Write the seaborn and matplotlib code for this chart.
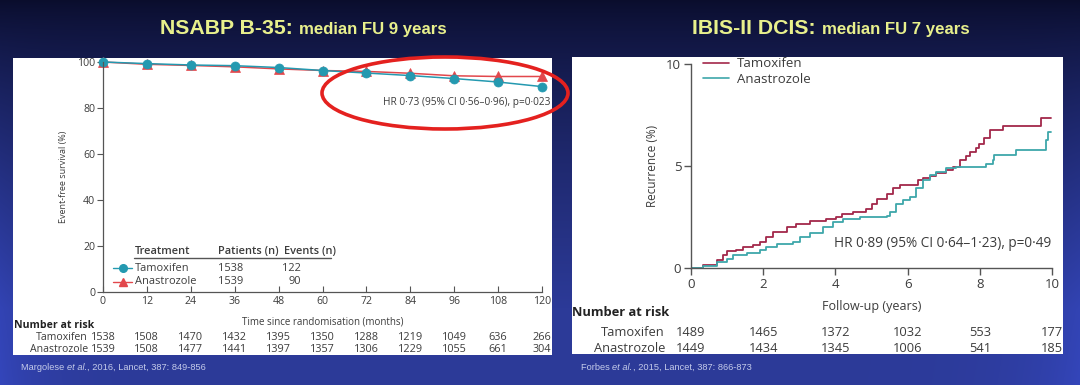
import numpy as np
import pandas as pd
import matplotlib
matplotlib.use("Agg")
import matplotlib.pyplot as plt
import seaborn as sns
import matplotlib.transforms as mtrans
from matplotlib.patches import Ellipse, Rectangle
from matplotlib.lines import Line2D

# ---------------- data ----------------
b35_months = [0, 12, 24, 36, 48, 60, 72, 84, 96, 108, 120]
b35_tamoxifen = [100, 99.3, 98.7, 98.4, 97.6, 96.3, 95.2, 94.1, 92.8, 91.3, 89.3]
b35_anastrozole = [100, 99.0, 98.5, 97.9, 97.0, 96.3, 95.9, 95.1, 94.0, 93.7, 93.7]
b35_risk_tamoxifen = [1538, 1508, 1470, 1432, 1395, 1350, 1288, 1219, 1049, 636, 266]
b35_risk_anastrozole = [1539, 1508, 1477, 1441, 1397, 1357, 1306, 1229, 1055, 661, 304]
b35_table_patients = [1538, 1539]
b35_table_events = [122, 90]

ibis_tam_years = [0, 0.34, 0.71, 0.9, 0.99, 1.26, 1.45, 1.73, 1.91, 2.09, 2.28, 2.65, 2.92,
                  3.29, 3.75, 4.03, 4.17, 4.49, 4.86, 5.0, 5.14, 5.42, 5.6, 5.79, 6.15,
                  6.29, 6.43, 6.61, 6.8, 7.07, 7.26, 7.44, 7.63, 7.72, 7.9, 7.99, 8.13,
                  8.27, 8.64, 9.7, 9.98]
ibis_tam_rec = [0, 0.16, 0.38, 0.62, 0.82, 0.9, 1.03, 1.15, 1.28, 1.52, 1.77, 2.0, 2.18,
                2.31, 2.42, 2.5, 2.67, 2.75, 2.91, 3.16, 3.37, 3.65, 3.9, 4.06, 4.06,
                4.3, 4.42, 4.5, 4.66, 4.8, 4.96, 5.29, 5.48, 5.7, 5.86, 6.1, 6.35,
                6.76, 6.96, 7.36, 7.36]
ibis_ana_years = [0, 0.34, 0.71, 0.99, 1.17, 1.54, 1.91, 2.09, 2.37, 2.83, 3.02, 3.29,
                  3.66, 3.94, 4.22, 4.68, 5.42, 5.51, 5.69, 5.88, 6.06, 6.24, 6.43,
                  6.61, 6.8, 7.07, 7.35, 8.09, 8.18, 8.36, 8.4, 8.82, 9.01, 9.79,
                  9.84, 9.88, 9.98]
ibis_ana_rec = [0, 0.08, 0.29, 0.46, 0.62, 0.74, 0.87, 1.03, 1.19, 1.28, 1.52, 1.72,
                2.01, 2.26, 2.42, 2.5, 2.54, 2.75, 3.16, 3.32, 3.49, 3.9, 4.3,
                4.55, 4.71, 4.88, 4.93, 4.93, 5.12, 5.29, 5.53, 5.53, 5.78, 5.78,
                6.27, 6.68, 6.68]
ibis_risk_years = [0, 2, 4, 6, 8, 10]
ibis_risk_tamoxifen = [1489, 1465, 1372, 1032, 553, 177]
ibis_risk_anastrozole = [1449, 1434, 1345, 1006, 541, 185]

arms = ["Tamoxifen", "Anastrozole"]

# ---------------- style ----------------
sns.set_theme(style="white")
plt.rcParams["font.family"] = ["Open Sans", "DejaVu Sans"]

W, H = 1080, 385
def fx(x): return x / W
def fy(y): return 1 - y / H

TXT = "#3c3c3c"
AX = "#555555"
TEAL_B = "#2499b0"
RED_B = "#e2474c"
TAM_I = "#a3284a"
ANA_I = "#3ea7aa"
YEL = "#e8f08c"

fig = plt.figure(figsize=(W / 100, H / 100), dpi=100)

# background gradient
bg = fig.add_axes([0, 0, 1, 1], zorder=0)
yy, xx = np.mgrid[0:H, 0:W]
t = yy / H
top = np.array([10, 13, 44.0])
bot = np.array([44, 58, 152.0])
c = top + (bot - top) * (np.clip(t * 1.25, 0, 1) ** 0.75)[..., None]
edge = (np.exp(-xx / 45.0) + np.exp(-(W - xx) / 60.0))[..., None] * np.array([8, 12, 35.0]) * t[..., None]
img = np.clip((c + edge) / 255.0, 0, 1)
bg.imshow(img, extent=[0, 1, 0, 1], aspect="auto", origin="upper")
bg.set_axis_off()

# white panels
panelL = Rectangle((fx(13), fy(355)), (552 - 13) / W, (355 - 58) / H,
                   transform=fig.transFigure, facecolor="white", edgecolor="none", zorder=1)
panelR = Rectangle((fx(572), fy(354)), (1063 - 572) / W, (354 - 57) / H,
                   transform=fig.transFigure, facecolor="white", edgecolor="none", zorder=1)
fig.add_artist(panelL)
fig.add_artist(panelR)

# ---------------- left chart (NSABP B-35) ----------------
axL = fig.add_axes([fx(103), fy(292), (542 - 103) / W, (292 - 62) / H], zorder=3)
axL.set_facecolor("none")
dfL = pd.DataFrame({"month": b35_months * 2,
                    "value": b35_tamoxifen + b35_anastrozole,
                    "arm": ["Tamoxifen"] * len(b35_months) + ["Anastrozole"] * len(b35_months)})
for arm, col, mk in [("Anastrozole", RED_B, "^"), ("Tamoxifen", TEAL_B, "o")]:
    sns.lineplot(data=dfL[dfL["arm"] == arm], x="month", y="value", ax=axL, color=col,
                 marker=mk, markersize=6.5, markeredgecolor=col, markeredgewidth=0.5,
                 linewidth=1.1, legend=False, clip_on=False)
axL.set_xlim(0, 120)
axL.set_ylim(0, 100)
axL.set_xticks(b35_months)
axL.set_yticks([0, 20, 40, 60, 80, 100])
for s in ["top", "right"]:
    axL.spines[s].set_visible(False)
for s in ["left", "bottom"]:
    axL.spines[s].set_color(AX)
    axL.spines[s].set_linewidth(0.9)
axL.tick_params(axis="y", direction="out", length=4, width=0.8, colors=AX, labelsize=7.6,
                labelcolor=TXT, pad=1.5, left=True)
axL.tick_params(axis="x", direction="in", length=4, width=0.8, colors=AX, labelsize=7.6,
                labelcolor=TXT, pad=3, bottom=True)
axL.set_xlabel("Time since randomisation (months)", fontsize=7, color=TXT, labelpad=7)
axL.set_ylabel("Event-free survival (%)", fontsize=6.5, color=TXT, labelpad=7)
axL.text(122.2, 82.2, "HR 0·73 (95% CI 0·56–0·96), p=0·023", ha="right", va="center",
         fontsize=7.3, color=TXT, clip_on=False)

# inline table legend
axL.text(8.7, 17.4, "Treatment", fontsize=7.9, color=TXT, fontweight="semibold", va="center")
axL.text(31.4, 17.4, "Patients (n)", fontsize=7.9, color=TXT, fontweight="semibold", va="center")
axL.text(49.5, 17.4, "Events (n)", fontsize=7.9, color=TXT, fontweight="semibold", va="center")
axL.plot([8.5, 62.3], [14.6, 14.6], color=AX, lw=1.0)
for i, (arm, col, mk) in enumerate([("Tamoxifen", TEAL_B, "o"), ("Anastrozole", RED_B, "^")]):
    yv = 10.4 - i * 6.0
    axL.plot([2.7, 7.9], [yv, yv], color=col, lw=1.0)
    axL.plot([5.4], [yv], marker=mk, color=col, markersize=5.5)
    axL.text(8.7, yv, arm, fontsize=7.9, color=TXT, va="center")
    axL.text(31.4, yv, str(b35_table_patients[i]), fontsize=7.9, color=TXT, va="center")
    axL.text(54.2, yv, str(b35_table_events[i]), fontsize=7.9, color=TXT, va="center", ha="right")

# number at risk (left)
trL = mtrans.blended_transform_factory(axL.transData, fig.transFigure)
fig.text(fx(14), fy(325), "Number at risk", fontsize=7.6, color="#222222",
         fontweight="bold", va="center", ha="left", zorder=4)
for i, (arm, vals) in enumerate([("Tamoxifen", b35_risk_tamoxifen),
                                 ("Anastrozole", b35_risk_anastrozole)]):
    yrow = fy(338 + i * 12)
    fig.text(fx(88), yrow, arm, fontsize=7.6, color=TXT, va="center", ha="right", zorder=4)
    for m, v in zip(b35_months, vals):
        tt = axL.text(m, yrow, str(v), transform=trL, fontsize=7.8, color=TXT,
                      va="center", ha="center", clip_on=True)
        tt.set_clip_path(panelL)

# red ellipse highlight
fig.add_artist(Ellipse((fx(445), fy(93)), 246 / W, 72 / H, transform=fig.transFigure,
                       fill=False, edgecolor="#e4211f", linewidth=2.6, zorder=5))

# ---------------- right chart (IBIS-II DCIS) ----------------
axR = fig.add_axes([fx(691), fy(268), (1052 - 691) / W, (268 - 64) / H], zorder=3)
axR.set_facecolor("none")
dfR = pd.DataFrame({"years": ibis_tam_years + ibis_ana_years,
                    "rec": ibis_tam_rec + ibis_ana_rec,
                    "arm": ["Tamoxifen"] * len(ibis_tam_years) + ["Anastrozole"] * len(ibis_ana_years)})
sns.lineplot(data=dfR, x="years", y="rec", hue="arm", hue_order=arms,
             palette={"Tamoxifen": TAM_I, "Anastrozole": ANA_I}, drawstyle="steps-post",
             linewidth=1.3, ax=axR, legend=False, estimator=None)
axR.set_xlim(0, 10)
axR.set_ylim(0, 10)
axR.set_xticks(ibis_risk_years)
axR.set_yticks([0, 5, 10])
for s in ["top", "right"]:
    axR.spines[s].set_visible(False)
for s in ["left", "bottom"]:
    axR.spines[s].set_color(AX)
    axR.spines[s].set_linewidth(1.0)
axR.tick_params(axis="both", direction="out", length=5, width=1.0, colors=AX, labelsize=9.5,
                labelcolor=TXT, pad=2, left=True, bottom=True)
axR.set_xlabel("Follow-up (years)", fontsize=9, color=TXT, labelpad=7)
axR.set_ylabel("Recurrence (%)", fontsize=8.5, color=TXT, labelpad=5)
axR.text(9.97, 1.2, "HR 0·89 (95% CI 0·64–1·23), p=0·49", ha="right", va="center",
         fontsize=9.8, color=TXT)
handles = [Line2D([], [], color=TAM_I, lw=1.2), Line2D([], [], color=ANA_I, lw=1.2)]
fig.legend(handles, arms, loc="center left", bbox_to_anchor=(fx(703), fy(71.5)),
           bbox_transform=fig.transFigure, frameon=False, fontsize=9.5, handlelength=2.0,
           handletextpad=0.6, labelspacing=0.2, borderpad=0, borderaxespad=0,
           labelcolor=TXT)

trR = mtrans.blended_transform_factory(axR.transData, fig.transFigure)
fig.text(fx(572), fy(313), "Number at risk", fontsize=9.3, color="#222222",
         fontweight="bold", va="center", ha="left", zorder=4)
for i, (arm, vals) in enumerate([("Tamoxifen", ibis_risk_tamoxifen),
                                 ("Anastrozole", ibis_risk_anastrozole)]):
    yrow = fy(332 + i * 16.5)
    fig.text(fx(665), yrow, arm, fontsize=9.3, color=TXT, va="center", ha="right", zorder=4)
    for yr, v in zip(ibis_risk_years, vals):
        tt = axR.text(yr, yrow, str(v), transform=trR, fontsize=9.3, color=TXT,
                      va="center", ha="center", clip_on=True)
        tt.set_clip_path(panelR)

# ---------------- titles & citations ----------------
fig.canvas.draw()
rend = fig.canvas.get_renderer()

def two_part_title(center_x, base_y, big, small):
    t1 = fig.text(0, fy(base_y), big, fontsize=15.3, fontweight="bold", color=YEL,
                  family="Liberation Sans", va="baseline", ha="left")
    t2 = fig.text(0, fy(base_y), small, fontsize=12.1, fontweight="bold", color=YEL,
                  family="Liberation Sans", va="baseline", ha="left")
    w1 = t1.get_window_extent(renderer=rend).width
    w2 = t2.get_window_extent(renderer=rend).width
    gap = 6
    x0 = center_x - (w1 + gap + w2) / 2
    t1.set_x(fx(x0))
    t2.set_x(fx(x0 + w1 + gap))

two_part_title(303, 34, "NSABP B-35:", "median FU 9 years")
two_part_title(831, 34, "IBIS-II DCIS:", "median FU 7 years")

def citation(x_left, y, parts):
    x = x_left
    for txt, style in parts:
        tt = fig.text(fx(x), fy(y), txt, fontsize=6.7, color="#c4cbea", va="center",
                      ha="left", family="Liberation Sans", style=style)
        x += tt.get_window_extent(renderer=rend).width

citation(21, 367, [("Margolese ", "normal"), ("et al.", "italic"),
                   (", 2016, Lancet, 387: 849-856", "normal")])
citation(581, 367, [("Forbes ", "normal"), ("et al.", "italic"),
                    (", 2015, Lancet, 387: 866-873", "normal")])

fig.savefig("out.png", dpi=100)
